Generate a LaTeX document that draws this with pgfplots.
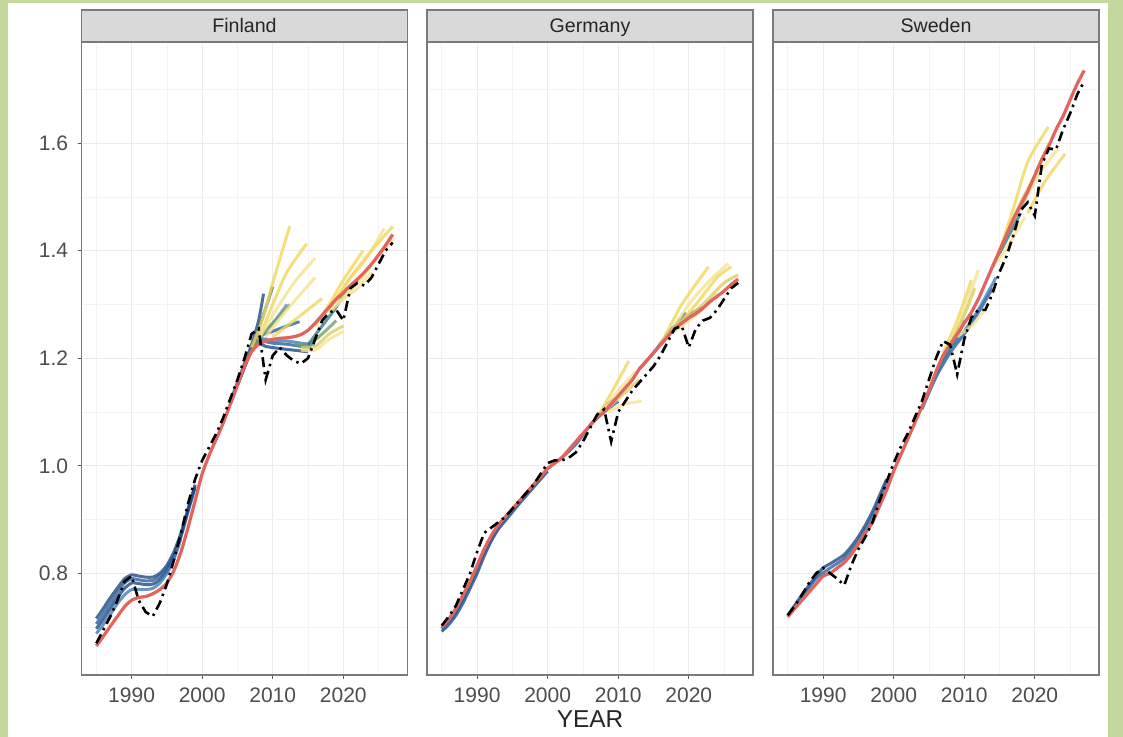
\documentclass[border=0pt]{standalone}
\usepackage{pgfplots}
\pgfplotsset{compat=1.18}
\usepackage{fontspec}
\setmainfont{Liberation Sans}
\definecolor{bggreen}{HTML}{C4D79C}
\definecolor{gridmaj}{HTML}{EBEBEB}
\definecolor{gridmin}{HTML}{F3F3F3}
\definecolor{frame}{HTML}{7A7A7A}
\definecolor{tickc}{HTML}{555555}
\definecolor{labc}{HTML}{4D4D4D}
\definecolor{stripc}{HTML}{D9D9D9}
\definecolor{redl}{HTML}{E3645E}
\definecolor{vbA}{HTML}{1A4680}
\definecolor{vbB}{HTML}{2A5E9E}
\definecolor{vbC}{HTML}{4079B8}
\definecolor{vlav}{HTML}{7E8FC8}
\definecolor{vteal}{HTML}{2F7A85}
\definecolor{vgreen}{HTML}{6A9E6A}
\definecolor{vyA}{HTML}{D8CF5E}
\definecolor{vyB}{HTML}{F2D65A}
\definecolor{vyC}{HTML}{F6E38C}
\pgfplotsset{
  panel/.style={
    scale only axis, width=163pt, height=316.5pt, anchor=south west,
    xmin=1982.9, xmax=2029.1, ymin=0.611, ymax=1.788,
    xtick={1990,2000,2010,2020},
    minor xtick={1985,1995,2005,2015,2025},
    ytick={0.8,1.0,1.2,1.4,1.6},
    minor ytick={0.7,0.9,1.1,1.3,1.5,1.7},
    grid=both,
    major grid style={draw=gridmaj, line width=0.55pt},
    minor grid style={draw=gridmin, line width=0.35pt},
    axis line style={draw=frame, line width=0.6pt},
    tick align=outside, major tick length=2pt, minor tick length=0pt,
    tick style={draw=tickc, line width=0.5pt},
    xtick pos=bottom, ytick pos=left,
    x tick label style={font=\fontsize{10.5}{12}\selectfont, text=labc, inner sep=0pt, yshift=-4pt, /pgf/number format/1000 sep={}},
    y tick label style={font=\fontsize{10.5}{12}\selectfont, text=labc, inner sep=0pt, xshift=-4.5pt, /pgf/number format/.cd, fixed, fixed zerofill, precision=1},
    /pgf/number format/assume math mode=true,
    no markers,
  },
  noy/.style={yticklabels={}, major y tick style={draw=none}},
  vint/.style={line width=1.5pt, draw opacity=0.78, draw=#1, smooth, tension=0.4},
  est/.style={line width=1.6pt, draw=redl, smooth, tension=0.4},
  act/.style={line width=1.3pt, draw=black, dash pattern=on 5pt off 2.4pt on 1.2pt off 2.4pt},
}
\begin{document}
\begin{tikzpicture}[x=0.5pt,y=0.5pt]
\fill[bggreen] (0,0) rectangle (1123,737);
\fill[white] (8,0) rectangle (1108,734);

% ---------------- Finland ----------------
\begin{axis}[panel, at={(40.75pt,31pt)}]
\addplot[vint=vbA] coordinates {(1985,0.716)(1986,0.735)(1987,0.755)(1988,0.773)(1989,0.79)(1990,0.797)(1991,0.795)(1992,0.793)(1993,0.793)(1994,0.80)(1995,0.815)(1996,0.84)(1997,0.875)(1998,0.92)(1999,0.965)};
\addplot[vint=vbB] coordinates {(1985,0.706)(1986,0.725)(1987,0.745)(1988,0.765)(1989,0.782)(1990,0.79)(1991,0.788)(1992,0.786)(1993,0.787)(1994,0.795)(1995,0.81)(1996,0.835)(1997,0.872)(1998,0.918)(1999,0.962)};
\addplot[vint=vbA] coordinates {(1985,0.697)(1986,0.715)(1987,0.735)(1988,0.755)(1989,0.772)(1990,0.782)(1991,0.781)(1992,0.779)(1993,0.78)(1994,0.788)(1995,0.804)(1996,0.83)(1997,0.868)(1998,0.915)(1999,0.96)};
\addplot[vint=vbC] coordinates {(1985,0.688)(1986,0.705)(1987,0.724)(1988,0.744)(1989,0.76)(1990,0.77)(1991,0.77)(1992,0.77)(1993,0.772)(1994,0.782)(1995,0.80)(1996,0.826)(1997,0.865)};
\addplot[vint=vbA] coordinates {(2004,1.12)(2005,1.155)(2006,1.19)(2007,1.225)(2008,1.27)(2008.7,1.32)};
\addplot[vint=vbB] coordinates {(2004,1.115)(2006,1.185)(2007,1.22)(2008,1.24)(2010,1.25)(2012,1.26)(2013.8,1.268)};
\addplot[vint=vbA] coordinates {(2005,1.15)(2007,1.215)(2008,1.228)(2009,1.222)(2011,1.218)(2013,1.215)(2015,1.212)};
\addplot[vint=vbB] coordinates {(2005,1.15)(2007,1.215)(2008,1.232)(2010,1.228)(2012,1.226)(2014,1.222)(2015.5,1.22)};
\addplot[vint=vbC] coordinates {(2006,1.19)(2008,1.235)(2010,1.232)(2012,1.232)(2014,1.228)(2016,1.225)};
\addplot[vint=vlav] coordinates {(2006,1.19)(2008,1.24)(2010,1.265)(2012,1.30)};
\addplot[vint=vteal] coordinates {(2006,1.19)(2007.5,1.235)(2010,1.333)};
\addplot[vint=vgreen] coordinates {(2007,1.22)(2009,1.25)(2012.4,1.30)};
\addplot[vint=vyB] coordinates {(2007,1.22)(2008.5,1.27)(2010,1.34)(2012.4,1.445)};
\addplot[vint=vyB] coordinates {(2008,1.235)(2010,1.30)(2012,1.36)(2014.8,1.413)};
\addplot[vint=vyC] coordinates {(2008,1.235)(2010,1.28)(2013,1.34)(2016,1.386)};
\addplot[vint=vyC] coordinates {(2009,1.24)(2012,1.29)(2016,1.35)};
\addplot[vint=vyB] coordinates {(2010,1.24)(2013,1.27)(2017,1.311)};
\addplot[vint=vgreen] coordinates {(2013,1.225)(2015,1.225)(2017,1.245)(2019,1.27)};
\addplot[vint=vyA] coordinates {(2014,1.22)(2016,1.222)(2018,1.245)(2020,1.26)};
\addplot[vint=vyC] coordinates {(2014,1.215)(2016,1.215)(2018,1.235)(2020,1.25)};
\addplot[vint=vteal] coordinates {(2015,1.225)(2017,1.26)(2019,1.295)(2020.5,1.33)};
\addplot[vint=vyB] coordinates {(2016,1.26)(2018,1.30)(2020,1.345)(2022.8,1.40)};
\addplot[vint=vyC] coordinates {(2017,1.275)(2019,1.31)(2021,1.35)(2023,1.38)(2025.8,1.441)};
\addplot[vint=vyB] coordinates {(2018,1.29)(2021,1.35)(2024,1.40)(2027,1.445)};
\addplot[vint=vyC] coordinates {(2019,1.30)(2022,1.34)(2025,1.39)(2027,1.42)};
\addplot[vint=vyC] coordinates {(2018,1.285)(2020,1.31)(2022,1.33)(2024,1.36)};
\addplot[est] coordinates {(1985,0.665)(1986,0.683)(1987,0.702)(1988,0.72)(1989,0.738)(1990,0.75)(1991,0.755)(1992,0.757)(1993,0.762)(1994,0.77)(1995,0.782)(1996,0.805)(1997,0.84)(1998,0.885)(1999,0.935)(2000,0.985)(2001,1.02)(2002,1.05)(2003,1.08)(2004,1.115)(2005,1.15)(2006,1.185)(2007,1.212)(2008,1.226)(2009,1.232)(2010,1.235)(2011,1.237)(2012,1.238)(2013,1.24)(2014,1.244)(2015,1.252)(2016,1.265)(2017,1.28)(2018,1.295)(2019,1.31)(2020,1.322)(2021,1.335)(2022,1.347)(2023,1.36)(2024,1.375)(2025,1.392)(2026,1.41)(2027,1.43)};
\addplot[act] coordinates {(1985,0.670)(1986,0.695)(1987,0.72)(1988,0.75)(1989,0.785)(1990,0.795)(1991,0.75)(1992,0.728)(1993,0.72)(1994,0.745)(1995,0.78)(1996,0.825)(1997,0.875)(1998,0.93)(1999,0.975)(2000,1.01)(2001,1.035)(2002,1.06)(2003,1.09)(2004,1.125)(2005,1.16)(2006,1.20)(2007,1.245)(2008,1.255)(2009,1.16)(2010,1.205)(2011,1.22)(2012,1.205)(2013,1.195)(2014,1.19)(2015,1.20)(2016,1.235)(2017,1.27)(2018,1.285)(2019,1.29)(2020,1.27)(2021,1.33)(2022,1.34)(2023,1.335)(2024,1.35)(2025,1.375)(2026,1.40)(2027,1.415)};
\end{axis}

% ---------------- Germany ----------------
\begin{axis}[panel, noy, at={(213.5pt,31pt)}]
\addplot[vint=vbA] coordinates {(1985,0.692)(1986,0.705)(1987,0.722)(1988,0.745)(1989,0.772)(1990,0.80)(1991,0.832)(1992,0.86)(1993,0.882)(1994,0.898)(1995,0.914)(1996,0.93)(1997,0.945)(1998,0.96)(1999,0.975)(2000,0.99)};
\addplot[vint=vbB] coordinates {(1985,0.697)(1987,0.728)(1989,0.778)(1991,0.838)(1993,0.886)(1995,0.917)(1997,0.948)(1999,0.978)};
\addplot[vint=vbB] coordinates {(2000,0.995)(2002,1.015)(2004,1.04)(2006,1.075)(2008,1.10)(2010,1.12)};
\addplot[vint=vteal] coordinates {(2006,1.075)(2007,1.09)(2008.5,1.115)(2009.5,1.125)};
\addplot[vint=vyB] coordinates {(2007,1.09)(2009,1.135)(2011.5,1.195)};
\addplot[vint=vyC] coordinates {(2007.5,1.095)(2010,1.14)(2012.5,1.175)};
\addplot[vint=vyA] coordinates {(2008,1.10)(2010,1.125)(2013,1.16)};
\addplot[vint=vyC] coordinates {(2008.5,1.10)(2011,1.115)(2013.3,1.12)};
\addplot[vint=vbB] coordinates {(2013,1.18)(2015,1.21)(2017,1.245)(2019,1.275)(2019.5,1.285)};
\addplot[vint=vteal] coordinates {(2016,1.225)(2018,1.26)(2020,1.28)(2021.9,1.295)};
\addplot[vint=vyB] coordinates {(2016,1.225)(2019,1.30)(2022.8,1.37)};
\addplot[vint=vyC] coordinates {(2017,1.24)(2020,1.30)(2023,1.345)(2025.6,1.376)};
\addplot[vint=vyB] coordinates {(2018,1.255)(2021,1.30)(2024,1.35)(2026,1.37)};
\addplot[vint=vyC] coordinates {(2018,1.25)(2021,1.28)(2024,1.32)};
\addplot[vint=vyA] coordinates {(2019,1.265)(2022,1.30)(2025,1.34)(2027,1.355)};
\addplot[est] coordinates {(1985,0.70)(1986,0.715)(1987,0.735)(1988,0.76)(1989,0.785)(1990,0.815)(1991,0.845)(1992,0.87)(1993,0.89)(1994,0.905)(1995,0.92)(1996,0.935)(1997,0.95)(1998,0.965)(1999,0.98)(2000,0.995)(2001,1.005)(2002,1.015)(2003,1.03)(2004,1.045)(2005,1.06)(2006,1.075)(2007,1.09)(2008,1.10)(2009,1.115)(2010,1.13)(2011,1.145)(2012,1.16)(2013,1.18)(2014,1.195)(2015,1.21)(2016,1.225)(2017,1.24)(2018,1.255)(2019,1.265)(2020,1.275)(2021,1.283)(2022,1.293)(2023,1.305)(2024,1.315)(2025,1.325)(2026,1.337)(2027,1.347)};
\addplot[act] coordinates {(1985,0.703)(1986,0.72)(1987,0.74)(1988,0.77)(1989,0.80)(1990,0.84)(1991,0.875)(1992,0.885)(1993,0.895)(1994,0.905)(1995,0.92)(1996,0.935)(1997,0.95)(1998,0.965)(1999,0.985)(2000,1.005)(2001,1.01)(2002,1.01)(2003,1.015)(2004,1.025)(2005,1.045)(2006,1.07)(2007,1.095)(2008,1.105)(2009,1.045)(2010,1.10)(2011,1.12)(2012,1.14)(2013,1.155)(2014,1.17)(2015,1.185)(2016,1.205)(2017,1.23)(2018,1.255)(2019,1.26)(2020,1.22)(2021,1.255)(2022,1.27)(2023,1.275)(2024,1.29)(2025,1.31)(2026,1.33)(2027,1.34)};
\end{axis}

% ---------------- Sweden ----------------
\begin{axis}[panel, noy, at={(386.5pt,31pt)}]
\addplot[vint=vbA] coordinates {(1985,0.722)(1987,0.76)(1989,0.795)(1990,0.81)(1991,0.818)(1992,0.826)(1993,0.835)(1994,0.85)(1995,0.868)(1996,0.89)(1997,0.915)(1998,0.945)(1999,0.975)};
\addplot[vint=vbB] coordinates {(1985,0.72)(1987,0.755)(1989,0.79)(1991,0.81)(1993,0.828)(1995,0.86)(1997,0.908)(1999,0.97)};
\addplot[vint=vbB] coordinates {(2004,1.105)(2006,1.165)(2008,1.21)(2010,1.245)(2012,1.285)(2014,1.33)};
\addplot[vint=vbC] coordinates {(2006,1.17)(2008,1.215)(2010,1.25)(2012,1.29)(2014.5,1.35)};
\addplot[vint=vteal] coordinates {(2005,1.14)(2007,1.20)(2009,1.24)(2010,1.27)};
\addplot[vint=vyB] coordinates {(2007,1.21)(2009,1.27)(2011,1.345)};
\addplot[vint=vyC] coordinates {(2008,1.225)(2010,1.29)(2012,1.364)};
\addplot[vint=vyA] coordinates {(2008,1.225)(2010,1.28)(2011.5,1.33)};
\addplot[vint=vyC] coordinates {(2009,1.24)(2011,1.26)(2013,1.29)};
\addplot[vint=vteal] coordinates {(2014,1.37)(2016,1.42)(2018,1.47)};
\addplot[vint=vgreen] coordinates {(2016,1.43)(2017.5,1.47)(2018.8,1.50)};
\addplot[vint=vyB] coordinates {(2015,1.40)(2017,1.48)(2019,1.565)(2021.9,1.63)};
\addplot[vint=vyC] coordinates {(2017,1.46)(2019,1.505)(2021,1.55)(2023.3,1.59)};
\addplot[vint=vyC] coordinates {(2014,1.37)(2015.8,1.40)(2018.6,1.463)};
\addplot[vint=vyB] coordinates {(2019,1.47)(2021.5,1.53)(2024.3,1.58)};
\addplot[vint=vyA] coordinates {(2016,1.43)(2018,1.49)(2020,1.54)(2022,1.60)};
\addplot[est] coordinates {(1985,0.719)(1986,0.735)(1987,0.75)(1988,0.765)(1989,0.78)(1990,0.795)(1991,0.80)(1992,0.81)(1993,0.82)(1994,0.835)(1995,0.855)(1996,0.875)(1997,0.895)(1998,0.925)(1999,0.955)(2000,0.99)(2001,1.02)(2002,1.05)(2003,1.08)(2004,1.11)(2005,1.14)(2006,1.175)(2007,1.205)(2008,1.225)(2009,1.245)(2010,1.265)(2011,1.285)(2012,1.31)(2013,1.34)(2014,1.37)(2015,1.40)(2016,1.43)(2017,1.46)(2018,1.485)(2019,1.51)(2020,1.54)(2021,1.57)(2022,1.595)(2023,1.625)(2024,1.65)(2025,1.68)(2026,1.71)(2027,1.735)};
\addplot[act] coordinates {(1985,0.722)(1986,0.74)(1987,0.76)(1988,0.782)(1989,0.80)(1990,0.81)(1991,0.80)(1992,0.79)(1993,0.778)(1994,0.815)(1995,0.845)(1996,0.868)(1997,0.895)(1998,0.935)(1999,0.97)(2000,1.005)(2001,1.035)(2002,1.06)(2003,1.09)(2004,1.12)(2005,1.16)(2006,1.20)(2007,1.232)(2008,1.225)(2009,1.17)(2010,1.235)(2011,1.275)(2012,1.29)(2013,1.29)(2014,1.32)(2015,1.36)(2016,1.39)(2017,1.43)(2018,1.475)(2019,1.49)(2020,1.465)(2021,1.56)(2022,1.59)(2023,1.588)(2024,1.625)(2025,1.655)(2026,1.69)(2027,1.715)};
\end{axis}

% strips
\foreach \xa/\name in {81.5/Finland, 427/Germany, 773/Sweden}{
  \draw[fill=stripc, draw=frame, line width=0.6pt] (\xa,695) rectangle ++(326,32);
  \node[font=\fontsize{9.8}{11}\selectfont, text=black!85, anchor=base, inner sep=0pt] at (\xa+163,704) {\name};
}
\node[font=\fontsize{12.2}{14}\selectfont, text=black!85, anchor=base, inner sep=0pt] at (590,9) {YEAR};
\pgfresetboundingbox
\path[use as bounding box] (0,0) rectangle (1123,737);
\end{tikzpicture}
\end{document}
